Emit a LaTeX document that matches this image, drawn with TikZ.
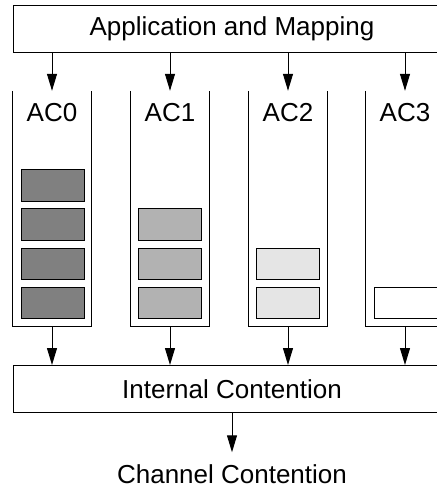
\documentclass[tikz,border=0pt]{standalone}
\usepackage{fontspec}
\setmainfont{Liberation Sans}
\usetikzlibrary{arrows.meta}
\begin{document}
\begin{tikzpicture}[x=1pt,y=-1pt,
  txt/.style={font=\fontsize{26}{30}\selectfont},
  bigbox/.style={draw, line width=1pt, minimum width=438pt, minimum height=47pt, inner sep=0pt, txt},
  queue/.style={minimum width=78pt, minimum height=235.5pt, inner sep=0pt},
  wall/.style={line width=1pt},
  pkt/.style={draw, line width=1pt, minimum width=63pt, minimum height=31.5pt, inner sep=0pt},
  arr/.style={line width=1pt, -{Triangle[length=17pt,width=10pt]}}]
\useasboundingbox (0,0) rectangle (437,491);
\clip (0,0) rectangle (437,491);

% top and bottom stages
\node[bigbox] (app) at (232,28.5) {Application and Mapping};
\node[bigbox] (ic) at (232,389) {Internal Contention};
\node[txt, inner xsep=2pt, inner ysep=12pt] (cc) at (232,474) {Channel Contention};

% access category queues
\foreach \i/\x in {0/52,1/170,2/288,3/405}{
  \node[queue] (q\i) at (\x,208.75) {};
  \draw[wall] (q\i.north west) |- (q\i.south east) -- (q\i.north east);
  \node[txt] (l\i) at (\x,113) {AC\i};
  \draw[arr] (app.south -| q\i) -- (q\i.north);
  \draw[arr] (q\i.south) -- (ic.north -| q\i);
}

% queued frames
\foreach \y [count=\k] in {185.5,224.5,264,303}{
  \node[pkt, fill=black!50] (p0\k) at (52.5,\y) {};
}
\foreach \y [count=\k] in {224.5,264,303}{
  \node[pkt, fill=black!30] (p1\k) at (170,\y) {};
}
\foreach \y [count=\k] in {264,303}{
  \node[pkt, fill=black!10] (p2\k) at (287.5,\y) {};
}
\node[pkt, fill=white] (p31) at (405.5,303) {};

\draw[arr] (ic.south) -- (cc.north);
\end{tikzpicture}
\end{document}
